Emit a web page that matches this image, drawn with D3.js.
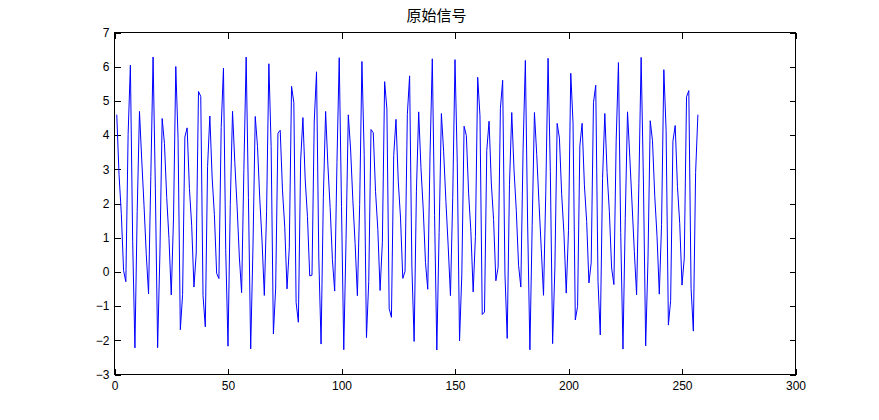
<!DOCTYPE html>
<html>
<head>
<meta charset="utf-8">
<script src="https://cdn.jsdelivr.net/npm/d3@7"></script>
<style>
  html, body { margin: 0; padding: 0; background: #fff; }
  svg { display: block; }
  .tick text { font-family: "Liberation Sans", Arial, sans-serif; font-size: 12px; fill: #000; }
</style>
</head>
<body>
<svg id="chart" width="879" height="420"></svg>
<script>
// ---- data ----
const chartTitle = "原始信号";
const xTicks = [0, 50, 100, 150, 200, 250, 300];
const yTicks = [-3, -2, -1, 0, 1, 2, 3, 4, 5, 6, 7];
// samples 1..257 of the original signal
const signal = [
  4.598, 2.842, 1.714, 0.035, -0.287, 4.021, 6.046, 0.896, -2.222, 1.765,
  4.692, 3.275, 1.951, 0.515, -0.641, 2.785, 6.284, 2.429, -2.216, 0.522,
  4.486, 3.754, 2.176, 0.975, -0.673, 1.578, 6.006, 3.905, -1.691, -0.659,
  3.944, 4.212, 2.439, 1.364, -0.443, 0.550, 5.276, 5.132, -0.696, -1.607,
  3.080, 4.558, 2.777, 1.671, -0.042, -0.195, 4.218, 5.956, 0.650, -2.172,
  1.967, 4.696, 3.198, 1.914, 0.434, -0.606, 2.993, 6.281, 2.172, -2.254,
  0.729, 4.544, 3.673, 2.137, 0.902, -0.688, 1.770, 6.086, 3.671, -1.814,
  -0.474, 4.058, 4.141, 2.391, 1.305, -0.496, 0.703, 5.425, 4.952, -0.890,
  -1.472, 3.244, 4.512, 2.715, 1.625, -0.117, -0.094, 4.411, 5.851, 0.408,
  -2.110, 2.165, 4.691, 3.123, 1.876, 0.354, -0.561, 3.202, 6.263, 1.914,
  -2.276, 0.938, 4.592, 3.593, 2.099, 0.827, -0.695, 1.967, 6.153, 3.432,
  -1.922, -0.283, 4.162, 4.067, 2.345, 1.244, -0.544, 0.865, 5.563, 4.762,
  -1.074, -1.327, 3.400, 4.461, 2.655, 1.577, -0.189, 0.017, 4.598, 5.733,
  0.172, -2.034, 2.359, 4.679, 3.049, 1.837, 0.273, -0.507, 3.410, 6.230,
  1.657, -2.284, 1.146, 4.630, 3.512, 2.062, 0.751, -0.694, 2.167, 6.207,
  3.187, -2.017, -0.087, 4.258, 3.991, 2.300, 1.180, -0.586, 1.034, 5.691,
  4.561, -1.246, -1.172, 3.549, 4.405, 2.598, 1.527, -0.258, 0.137, 4.779,
  5.602, -0.057, -1.945, 2.548, 4.659, 2.978, 1.798, 0.193, -0.443, 3.616,
  6.183, 1.401, -2.278, 1.354, 4.660, 3.432, 2.025, 0.674, -0.685, 2.371,
  6.247, 2.937, -2.098, 0.113, 4.343, 3.913, 2.257, 1.114, -0.621, 1.209,
  5.808, 4.351, -1.407, -1.009, 3.689, 4.345, 2.543, 1.475, -0.324, 0.266,
  4.953, 5.458, -0.278, -1.844, 2.731, 4.632, 2.909, 1.757, 0.113, -0.370,
  3.820, 6.122, 1.147, -2.257, 1.561, 4.680, 3.353, 1.988, 0.595, -0.668,
  2.577, 6.272, 2.684, -2.165, 0.316, 4.420, 3.834, 2.216, 1.045, -0.650,
  1.391, 5.913, 4.132, -1.555, -0.838, 3.821, 4.280, 2.490, 1.421, -0.386,
  0.404, 5.119, 5.301, -0.492, -1.731, 2.909, 4.598
];

// ---- layout ----
const margin = { left: 114.5, right: 879 - 795.5, top: 32.5, bottom: 420 - 374.5 };
const W = 879, H = 420;
const svg = d3.select("#chart");

const x = d3.scaleLinear().domain([0, 300]).range([margin.left, W - margin.right]);
const y = d3.scaleLinear().domain([-3, 7]).range([H - margin.bottom, margin.top]);

const tickLen = 6;

// axes (ticks pointing inward)
const xAxisB = d3.axisBottom(x).tickValues(xTicks).tickSizeInner(-tickLen).tickSizeOuter(0).tickPadding(6.5);
const xAxisT = d3.axisTop(x).tickValues(xTicks).tickSizeInner(-tickLen).tickSizeOuter(0).tickFormat("");
const yAxisL = d3.axisLeft(y).tickValues(yTicks).tickSizeInner(-tickLen).tickSizeOuter(0).tickPadding(5);
const yAxisR = d3.axisRight(y).tickValues(yTicks).tickSizeInner(-tickLen).tickSizeOuter(0).tickFormat("");

function style(g) {
  g.select(".domain").remove();
  g.selectAll(".tick line").attr("stroke", "#000").attr("shape-rendering", "crispEdges");
  g.selectAll(".tick text").attr("fill", "#000");
}

svg.append("g").attr("transform", `translate(0,${y(-3)})`).call(xAxisB).call(style);
svg.append("g").attr("transform", `translate(0,${y(7)})`).call(xAxisT).call(style);
svg.append("g").attr("transform", `translate(${x(0)},0)`).call(yAxisL).call(style);
svg.append("g").attr("transform", `translate(${x(300)},0)`).call(yAxisR).call(style);

// line
const line = d3.line().x((d, i) => x(i + 1)).y(d => y(d));
svg.append("path")
  .datum(signal)
  .attr("d", line)
  .attr("fill", "none")
  .attr("stroke", "#0000ff")
  .attr("stroke-width", 1);

// box
svg.append("rect")
  .attr("x", x(0)).attr("y", y(7))
  .attr("width", x(300) - x(0)).attr("height", y(-3) - y(7))
  .attr("fill", "none").attr("stroke", "#000").attr("stroke-width", 1)
  .attr("shape-rendering", "crispEdges");

// title
svg.append("text")
  .attr("x", 436.5).attr("y", 21)
  .attr("text-anchor", "middle")
  .attr("font-family", "'Noto Sans CJK SC', sans-serif")
  .attr("font-size", 15)
  .attr("fill", "#000")
  .text(chartTitle);
</script>
</body>
</html>
